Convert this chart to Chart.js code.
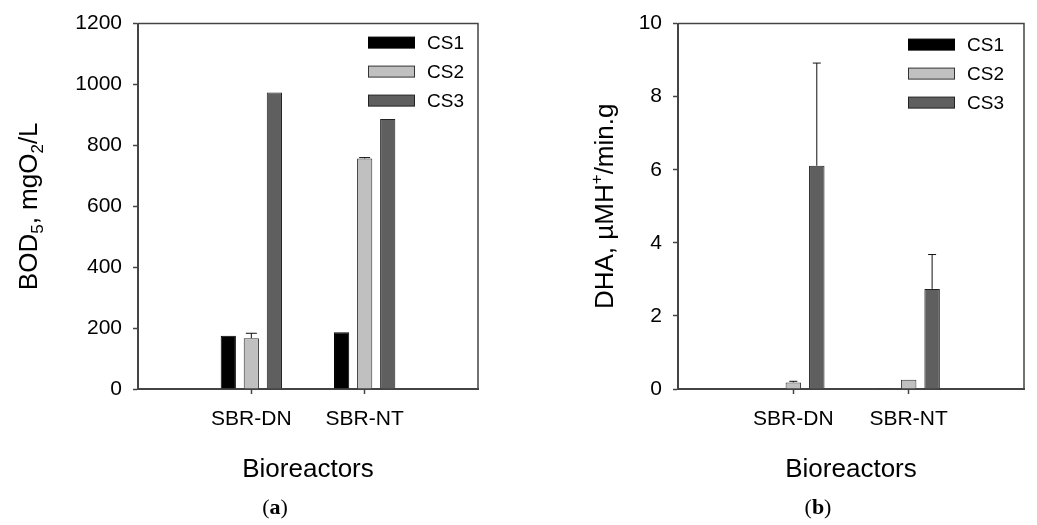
<!DOCTYPE html>
<html>
<head>
<meta charset="utf-8">
<script src="https://cdn.jsdelivr.net/npm/chart.js@4.4.1/dist/chart.umd.min.js"></script>
<style>
    html, body { margin: 0; padding: 0; background: #fff; }
    #wrap { position: relative; width: 1037px; height: 525px; }
    canvas { position: absolute; top: 0; }
</style>
</head>
<body>
<div id="wrap">
    <canvas id="bodChart" width="520" height="525" style="left:0"></canvas>
    <canvas id="dhaChart" width="517" height="525" style="left:520px"></canvas>
</div>
<script>
// Categories and series
const reactors = ['SBR-DN', 'SBR-NT'];
const seriesNames = ['CS1', 'CS2', 'CS3'];

// BOD5, mgO2/L
const bodCS1 = [175, 186];
const bodCS2 = [167, 757];
const bodCS3 = [974, 887];
const bodErrCS1 = [0, 0];
const bodErrCS2 = [16, 3];
const bodErrCS3 = [0, 0];

// DHA, uMH+/min.g
const dhaCS1 = [0, 0.02];
const dhaCS2 = [0.18, 0.25];
const dhaCS3 = [6.11, 2.74];
const dhaErrCS1 = [0, 0];
const dhaErrCS2 = [0.03, 0];
const dhaErrCS3 = [2.81, 0.94];

const bodTicks = [0, 200, 400, 600, 800, 1000, 1200];
const dhaTicks = [0, 2, 4, 6, 8, 10];

const FILLS = ['#000000', '#c0c0c0', '#5f5f5f'];
const BORDERS = ['#000000', '#333333', '#222222'];
const AXIS = '#444444';

Chart.defaults.font.family = '"Liberation Sans", Arial, sans-serif';
Chart.defaults.color = '#000';

// pad the category axis with empty slots at both ends
const paddedLabels = ['', ...reactors, ''];
const pad = arr => [null, ...arr, null];

// per-chart extras kept outside the options resolver
const extras = {
    bodChart: {
        errors: [bodErrCS1, bodErrCS2, bodErrCS3],
        cap: 5.5,
        legendTop: 19, legendRight: 110,
        titleX: 37,
        title: [
            { text: 'BOD' }, { text: '5', shift: 6 },
            { text: ', mgO' }, { text: '2', shift: 6 }, { text: '/L' },
        ],
        panel: 'a',
    },
    dhaChart: {
        errors: [dhaErrCS1, dhaErrCS2, dhaErrCS3],
        cap: 4,
        legendTop: 21, legendRight: 116,
        titleX: 93,
        title: [
            { text: 'DHA, \u00b5MH' }, { text: '+', shift: -11 }, { text: '/min.g' },
        ],
        panel: 'b',
    },
};

function makeDatasets(values) {
    return values.map((vals, i) => ({
        label: seriesNames[i],
        data: pad(vals),
        backgroundColor: FILLS[i],
        borderColor: BORDERS[i],
        borderWidth: 1,
        borderSkipped: 'start',
        categoryPercentage: 0.61,
        barPercentage: 0.66,
    }));
}

// Upward-only error bars
const errorBars = {
    id: 'errorBars',
    afterDatasetsDraw(chart) {
        const ex = extras[chart.canvas.id];
        const ctx = chart.ctx;
        const yScale = chart.scales.y;
        ctx.save();
        ctx.strokeStyle = '#111';
        ctx.lineWidth = 1;
        chart.data.datasets.forEach((ds, di) => {
            const meta = chart.getDatasetMeta(di);
            const errs = pad(ex.errors[di]);
            meta.data.forEach((bar, i) => {
                const v = ds.data[i];
                const e = errs[i];
                if (v == null || !e) return;
                const y0 = yScale.getPixelForValue(v);
                const y1 = yScale.getPixelForValue(v + e);
                ctx.beginPath();
                ctx.moveTo(bar.x, y0);
                ctx.lineTo(bar.x, y1);
                ctx.moveTo(bar.x - ex.cap, y1);
                ctx.lineTo(bar.x + ex.cap, y1);
                ctx.stroke();
            });
        });
        ctx.restore();
    }
};

// Frame, in-plot legend, rotated y title and panel letter
const decorations = {
    id: 'decorations',
    afterDraw(chart) {
        const ex = extras[chart.canvas.id];
        const ctx = chart.ctx;
        const area = chart.chartArea;
        ctx.save();

        // top and right frame lines
        ctx.strokeStyle = AXIS;
        ctx.lineWidth = 1.5;
        ctx.beginPath();
        ctx.moveTo(area.left, area.top);
        ctx.lineTo(area.right, area.top);
        ctx.lineTo(area.right, area.bottom);
        ctx.stroke();

        // legend
        ctx.font = '19px "Liberation Sans", Arial, sans-serif';
        ctx.textBaseline = 'middle';
        ctx.textAlign = 'left';
        chart.data.datasets.forEach((ds, i) => {
            const cy = area.top + ex.legendTop + i * 29;
            const sx = area.right - ex.legendRight;
            ctx.fillStyle = ds.backgroundColor;
            ctx.fillRect(sx, cy - 5.5, 47, 11);
            ctx.strokeStyle = ds.borderColor;
            ctx.lineWidth = 1;
            ctx.strokeRect(sx + 0.5, cy - 5.5, 46, 11);
            ctx.fillStyle = '#000';
            ctx.fillText(ds.label, sx + 59, cy + 1);
        });

        // y title with sub/superscripts
        const big = '26px "Liberation Sans", Arial, sans-serif';
        const small = '17px "Liberation Sans", Arial, sans-serif';
        const parts = ex.title;
        let total = 0;
        const widths = parts.map(p => {
            ctx.font = p.shift ? small : big;
            const w = ctx.measureText(p.text).width;
            total += w;
            return w;
        });
        const cy = (area.top + area.bottom) / 2;
        ctx.translate(ex.titleX, cy);
        ctx.rotate(-Math.PI / 2);
        ctx.textBaseline = 'alphabetic';
        ctx.fillStyle = '#000';
        let x = -total / 2;
        parts.forEach((p, i) => {
            ctx.font = p.shift ? small : big;
            ctx.fillText(p.text, x, p.shift ? p.shift : 0);
            x += widths[i];
        });
        ctx.setTransform(1, 0, 0, 1, 0, 0);

        // panel letter, e.g. (a)
        const serif = '"Liberation Serif", "Times New Roman", serif';
        const lp = [
            { text: '(', font: '22px ' + serif },
            { text: ex.panel, font: 'bold 22px ' + serif },
            { text: ')', font: '22px ' + serif },
        ];
        let lw = 0;
        const lws = lp.map(p => { ctx.font = p.font; const w = ctx.measureText(p.text).width; lw += w; return w; });
        let lx = (area.left + area.right) / 2 - 33 - lw / 2;
        ctx.textBaseline = 'middle';
        lp.forEach((p, i) => { ctx.font = p.font; ctx.fillText(p.text, lx, 508); lx += lws[i]; });

        ctx.restore();
    }
};

function buildChart(id, cfg) {
    const ctx = document.getElementById(id).getContext('2d');
    return new Chart(ctx, {
        type: 'bar',
        data: {
            labels: paddedLabels,
            datasets: makeDatasets(cfg.values),
        },
        options: {
            responsive: false,
            animation: false,
            layout: { padding: { top: cfg.top, right: cfg.right, left: 0, bottom: 0 } },
            plugins: {
                legend: { display: false },
                tooltip: { enabled: false },
            },
            scales: {
                x: {
                    offset: false,
                    grid: {
                        offset: false,
                        drawOnChartArea: false,
                        tickLength: 5,
                        tickWidth: 1.5,
                        tickColor: c => (c.index === 1 || c.index === 2) ? AXIS : 'rgba(0,0,0,0)',
                    },
                    border: { color: AXIS, width: 2 },
                    ticks: { font: { size: 21 }, padding: 13, maxRotation: 0, autoSkip: false },
                    title: {
                        display: true,
                        text: 'Bioreactors',
                        font: { size: 26 },
                        padding: { top: 0, bottom: 40 },
                    },
                    afterFit: s => { s.height = 136; },
                },
                y: {
                    min: cfg.ticks[0],
                    max: cfg.ticks[cfg.ticks.length - 1],
                    afterBuildTicks: s => { s.ticks = cfg.ticks.map(v => ({ value: v })); },
                    grid: {
                        drawOnChartArea: false,
                        tickLength: 5,
                        tickWidth: 1.5,
                        tickColor: AXIS,
                    },
                    border: { color: AXIS, width: 2 },
                    ticks: { font: { size: 21 }, padding: 11, callback: v => String(v) },
                    afterFit: s => { s.width = cfg.axisWidth; },
                },
            },
        },
        plugins: [errorBars, decorations],
    });
}

buildChart('bodChart', {
    values: [bodCS1, bodCS2, bodCS3],
    ticks: bodTicks,
    top: 20, right: 42, axisWidth: 138,
});

buildChart('dhaChart', {
    values: [dhaCS1, dhaCS2, dhaCS3],
    ticks: dhaTicks,
    top: 21, right: 6, axisWidth: 158,
});
</script>
</body>
</html>
